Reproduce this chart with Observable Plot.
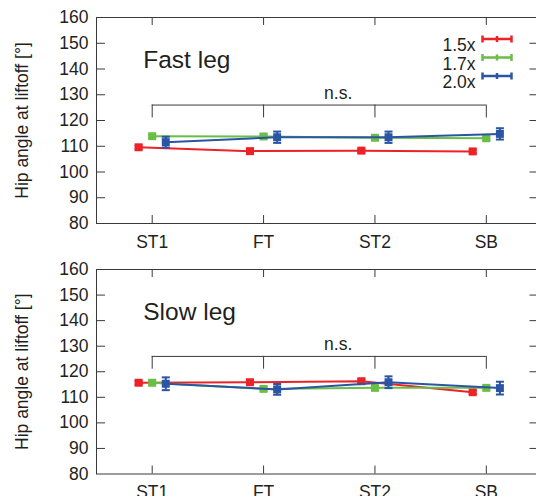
<!DOCTYPE html>
<html>
<head>
<meta charset="utf-8">
<script src="https://cdn.jsdelivr.net/npm/d3@7"></script>
<script src="https://cdn.jsdelivr.net/npm/@observablehq/plot@0.6"></script>
<style>
  html, body { margin: 0; padding: 0; background: #fff; overflow: hidden; }
  #chart svg { display: block; }
</style>
</head>
<body>
<div id="chart"></div>
<script>
// ---- data ----
const categories = ["ST1", "FT", "ST2", "SB"];
const series = ["1.5x", "1.7x", "2.0x"];
const seriesColors = ["#ec2227", "#6abd45", "#2a55a4"];
const yTicks = [80, 90, 100, 110, 120, 130, 140, 150, 160];

const fast15 = [109.6, 108.1, 108.3, 108.0];
const fast17 = [113.9, 113.8, 113.3, 113.1];
const fast20 = [111.6, 113.5, 113.5, 114.8];
const fast15Err = [0.7, 0.7, 0.7, 0.7];
const fast17Err = [0.7, 0.7, 0.7, 0.7];
const fast20Err = [2.1, 2.2, 2.2, 2.2];

const slow15 = [115.7, 115.9, 116.3, 112.0];
const slow17 = [115.7, 113.3, 113.7, 113.7];
const slow20 = [115.3, 113.1, 115.9, 113.6];
const slow15Err = [0.7, 0.7, 0.7, 0.7];
const slow17Err = [0.7, 0.7, 0.7, 0.7];
const slow20Err = [2.5, 2.1, 2.3, 2.5];

const panelTitles = ["Fast leg", "Slow leg"];
const nsLabel = "n.s.";
const bracketLevel = 126;      // horizontal bar of the significance bracket
const bracketFoot = 121;       // lower end of bracket legs
const nsPos = {x: 1.67, y: 130.6};
const titlePos = {x: -0.08, y: 143.3};
const yLabel = "Hip angle at liftoff [°]";

// ---- layout constants ----
const W = 536;
const FONT = "'Liberation Sans', Arial, Helvetica, sans-serif";
const TEXT = "#231f20";
const AXIS = "#3a3a3a";
const dodge = [-0.122, 0, 0.122];
const marginLeft = 96, marginRight = -5.5;
const frameW = W - marginLeft - marginRight;

const capSymbol = {draw(ctx) { ctx.moveTo(-4, 0); ctx.lineTo(4, 0); }};
const legendSymbol = {draw(ctx) {
  ctx.moveTo(-14.5, 0); ctx.lineTo(14.5, 0);
  ctx.moveTo(-14.5, -3.5); ctx.lineTo(-14.5, 3.5);
  ctx.moveTo(14.5, -3.5); ctx.lineTo(14.5, 3.5);
  ctx.moveTo(0, -3); ctx.lineTo(0, 3);
}};

function rowsFor(means, errs) {
  const rows = [];
  series.forEach((s, si) => {
    categories.forEach((c, ci) => {
      rows.push({series: s, si, cat: c, x: ci + dodge[si], y: means[si][ci],
                 lo: means[si][ci] - errs[si][ci], hi: means[si][ci] + errs[si][ci]});
    });
  });
  return rows;
}

function panel({means, errs, title, height, marginTop, marginBottom, legend}) {
  const rows = rowsFor(means, errs);
  const frameH = height - marginTop - marginBottom;
  const catIdx = categories.map((c, i) => i);
  const seriesMarks = series.flatMap((s, si) => {
    const d = rows.filter(r => r.si === si);
    const col = seriesColors[si];
    return [
      Plot.line(d, {x: "x", y: "y", stroke: col, strokeWidth: 2}),
      Plot.ruleX(d, {x: "x", y1: "lo", y2: "hi", stroke: col, strokeWidth: 2}),
      Plot.dot(d, {x: "x", y: "lo", symbol: capSymbol, stroke: col, fill: "none", strokeWidth: 2}),
      Plot.dot(d, {x: "x", y: "hi", symbol: capSymbol, stroke: col, fill: "none", strokeWidth: 2}),
      Plot.dot(d, {x: "x", y: "y", symbol: "square", r: 4.5, fill: col, stroke: "none"})
    ];
  });
  const legendMarks = legend ? series.flatMap((s, si) => [
    Plot.text([s], {text: d => d, frameAnchor: "top-right", dx: -(541.5 - 475), dy: 21.5 + si * 18.5,
      textAnchor: "end", fontSize: 17.5, fill: TEXT, fontFamily: FONT}),
    Plot.dot([s], {frameAnchor: "top-right", dx: -(541.5 - 496.5), dy: 21.5 + si * 18.5,
      symbol: legendSymbol, stroke: seriesColors[si], fill: "none", strokeWidth: 2.5})
  ]) : [];

  return Plot.plot({
    width: W,
    height,
    marginLeft, marginRight, marginTop, marginBottom,
    style: {fontFamily: FONT, fontSize: "17.5px", color: TEXT, background: "#fff", overflow: "visible"},
    x: {type: "linear", domain: [-0.5, 3.5], ticks: catIdx, tickFormat: i => categories[i],
        tickSize: 0, tickPadding: 12, label: null},
    y: {domain: [80, 160], ticks: yTicks, tickSize: 0, tickPadding: 8, label: null},
    marks: [
      Plot.frame({stroke: AXIS, strokeWidth: 1}),
      // inward ticks
      Plot.tickY(yTicks.slice(1, -1), {y: d => d, insetRight: frameW - 9, stroke: AXIS}),
      Plot.tickY(yTicks.slice(1, -1), {y: d => d, insetLeft: frameW - 12, stroke: AXIS}),
      Plot.tickX(catIdx, {x: d => d, insetBottom: frameH - 8, stroke: AXIS}),
      Plot.tickX(catIdx, {x: d => d, insetTop: frameH - 8, stroke: AXIS}),
      // significance bracket
      Plot.ruleY([bracketLevel], {x1: 0, x2: categories.length - 1, stroke: AXIS, strokeWidth: 1}),
      Plot.ruleX(catIdx, {x: d => d, y1: bracketFoot, y2: bracketLevel, stroke: AXIS, strokeWidth: 1}),
      Plot.text([nsLabel], {x: nsPos.x, y: nsPos.y, text: d => d, fontSize: 17.5, fill: TEXT, fontFamily: FONT}),
      // panel title
      Plot.text([title], {x: titlePos.x, y: titlePos.y, text: d => d, textAnchor: "start",
        fontSize: 24.5, fill: TEXT, fontFamily: FONT}),
      // y label
      Plot.text([yLabel], {frameAnchor: "left", dx: -74, rotate: -90, textAnchor: "middle",
        lineAnchor: "middle", text: d => d, fontSize: 17.5, fill: TEXT, fontFamily: FONT}),
      ...seriesMarks,
      ...legendMarks
    ]
  });
}

const topPanel = panel({
  means: [fast15, fast17, fast20], errs: [fast15Err, fast17Err, fast20Err],
  title: panelTitles[0], height: 250, marginTop: 17, marginBottom: 27, legend: true
});
const bottomPanel = panel({
  means: [slow15, slow17, slow20], errs: [slow15Err, slow17Err, slow20Err],
  title: panelTitles[1], height: 251, marginTop: 19, marginBottom: 27.5, legend: false
});
document.getElementById("chart").append(topPanel, bottomPanel);
</script>
</body>
</html>
